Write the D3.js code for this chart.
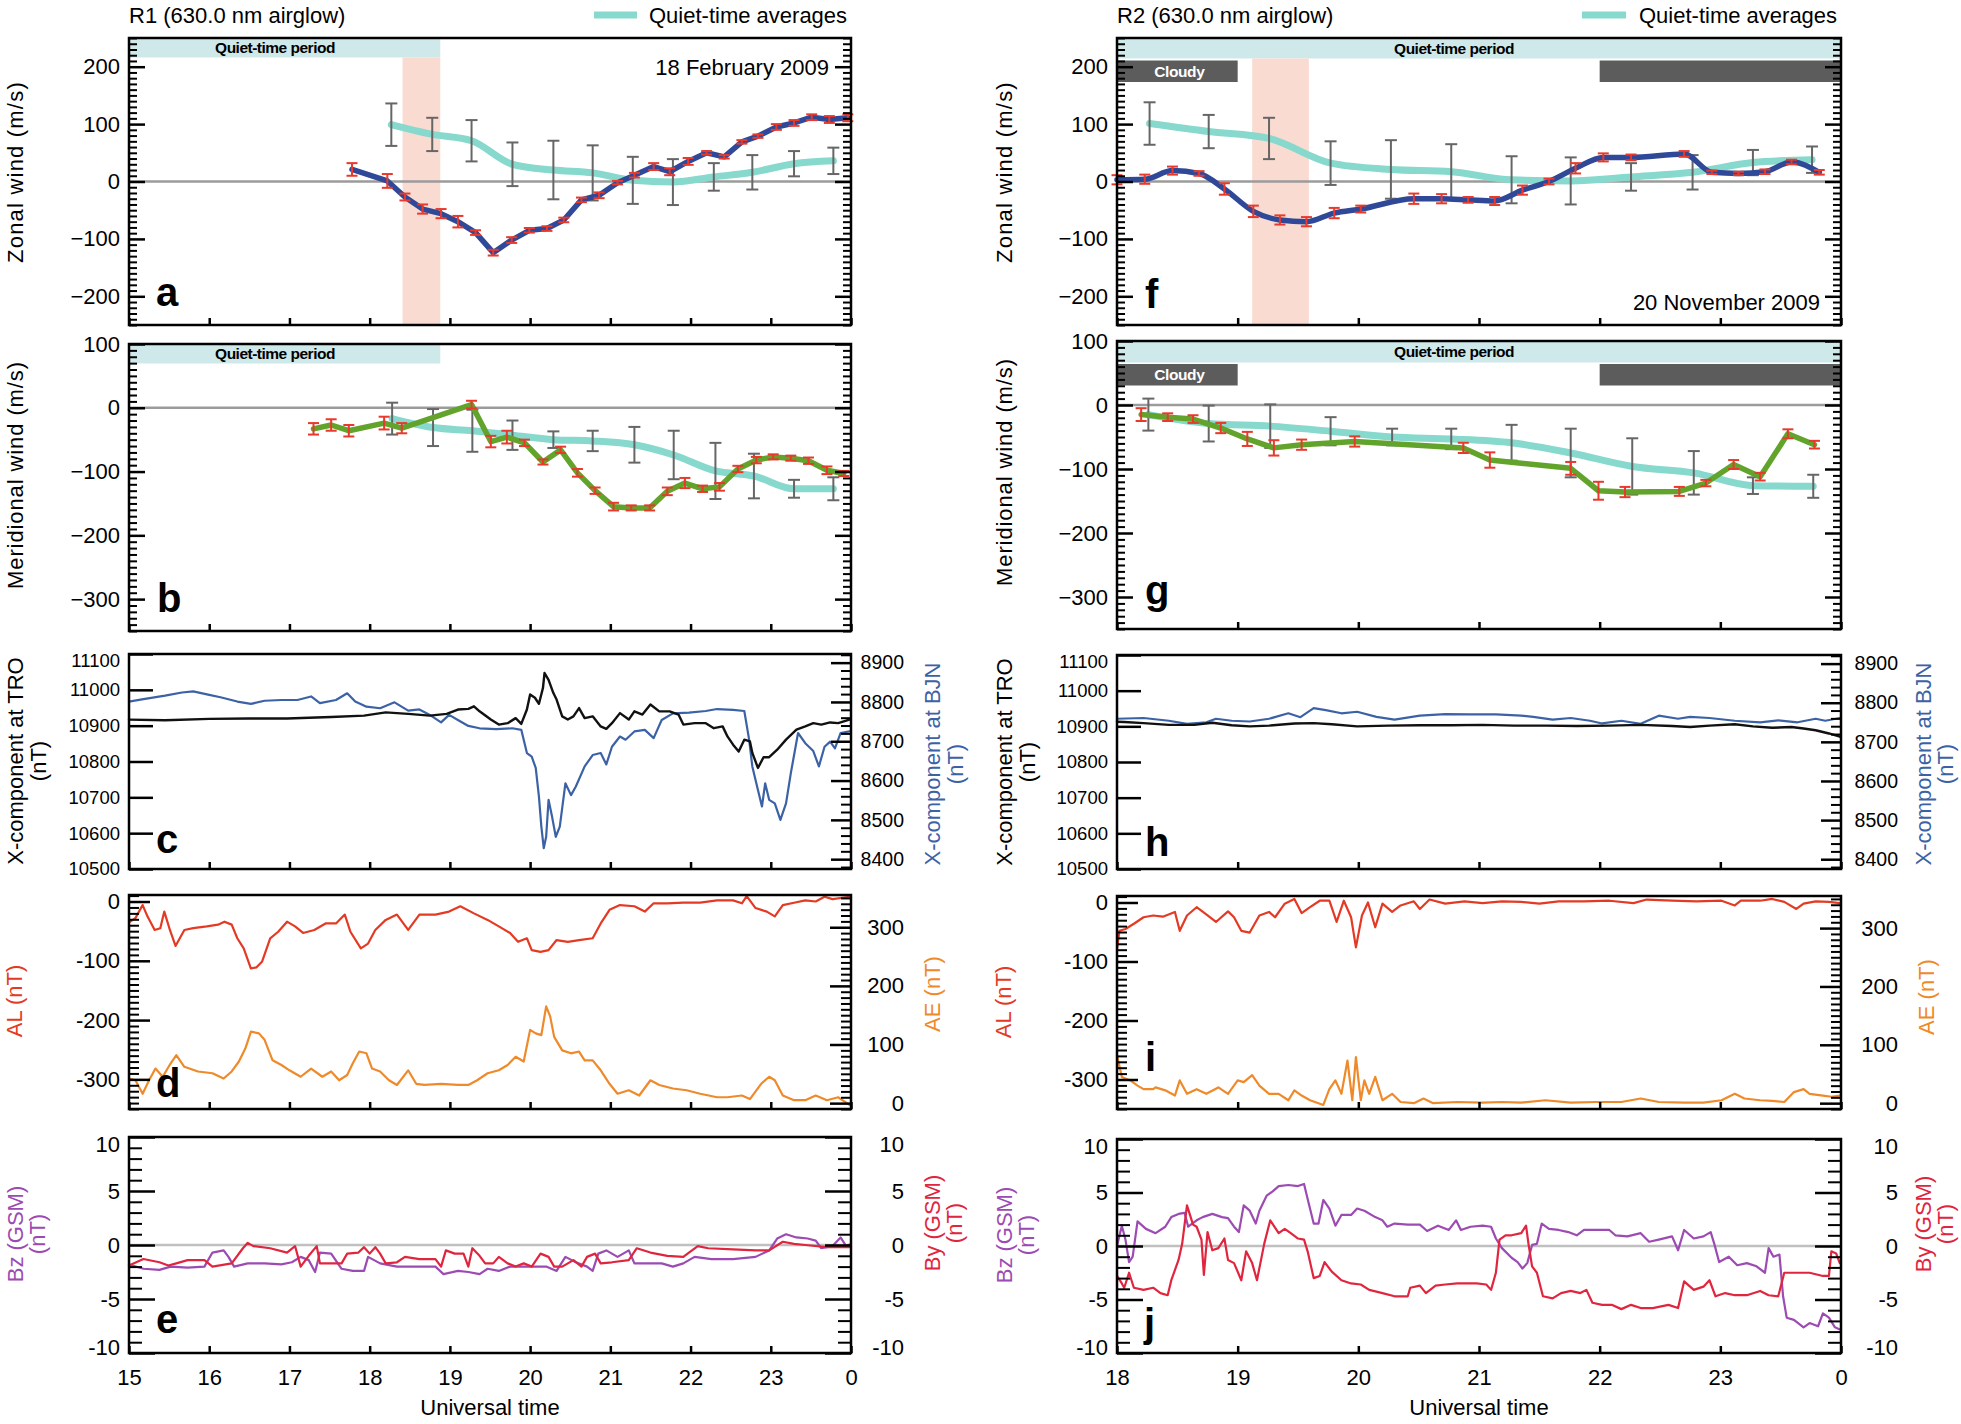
<!DOCTYPE html>
<html><head><meta charset="utf-8">
<script src="https://cdn.jsdelivr.net/npm/d3@7"></script>
<style>body{margin:0;background:#fff;}</style>
</head><body>
<script>
// ---------------- DATA ----------------
// wind panels: [UT hour, value (m/s), error (m/s)]
const zonalR1 = [[17.78,21,11],[18.22,1,12],[18.44,-27,6],[18.66,-48,8],[18.89,-56,8],[19.10,-70,10],[19.32,-89,4],[19.54,-124,5],[19.77,-102,5],[19.99,-85,4],[20.21,-82,4],[20.42,-67,4],[20.64,-32,4],[20.86,-24,5],[21.09,-2,3],[21.30,11,4],[21.54,26,6],[21.74,17,6],[21.97,35,6],[22.20,50,3],[22.42,43,3],[22.64,69,3],[22.84,79,3],[23.07,95,5],[23.29,102,5],[23.51,112,5],[23.73,108,6],[23.96,111,6]];
const quietZonalR1 = [[18.27,99,37],[18.78,82,29],[19.27,71,36],[19.78,30,38],[20.29,20,51],[20.78,15,48],[21.28,2,41],[21.78,-1,40],[22.29,8,24],[22.77,16,30],[23.29,31,22],[23.78,36,23]];
const meridR1 = [[17.30,-33,9],[17.52,-27,9],[17.74,-36,9],[18.18,-24,10],[18.40,-32,8],[19.27,5,6],[19.51,-53,9],[19.71,-46,10],[19.93,-55,5],[20.16,-85,4],[20.38,-66,5],[20.59,-102,6],[20.81,-130,5],[21.04,-155,6],[21.26,-157,4],[21.49,-157,4],[21.71,-131,6],[21.93,-118,8],[22.15,-127,5],[22.36,-124,6],[22.59,-96,5],[22.82,-82,5],[23.03,-77,4],[23.25,-79,4],[23.47,-83,5],[23.70,-98,6],[23.91,-103,4]];
const quietMeridR1 = [[18.28,-17,25],[18.79,-31,29],[19.28,-36,33],[19.78,-43,23],[20.29,-50,13],[20.78,-52,16],[21.30,-58,28],[21.79,-74,38],[22.31,-99,44],[22.79,-107,35],[23.29,-127,14],[23.78,-127,18]];
const zonalR2 = [[18.00,3,8],[18.23,4,8],[18.46,19,7],[18.68,14,4],[18.89,-13,10],[19.13,-52,10],[19.35,-67,8],[19.57,-70,8],[19.80,-55,9],[20.02,-48,6],[20.46,-30,9],[20.69,-30,8],[20.91,-32,5],[21.13,-34,7],[21.36,-15,8],[21.58,0,5],[21.80,23,9],[22.03,42,7],[22.26,42,5],[22.70,48,5],[22.93,16,3],[23.15,14,3],[23.37,17,4],[23.59,34,4],[23.82,16,4]];
const quietZonalR2 = [[18.27,101,37],[18.76,87,29],[19.26,75,36],[19.77,32,38],[20.27,21,51],[20.77,17,48],[21.27,3,41],[21.76,1,41],[22.26,8,24],[22.77,16,30],[23.27,33,22],[23.76,38,23]];
const meridR2 = [[18.20,-15,10],[18.42,-19,6],[18.63,-22,6],[18.86,-36,8],[19.08,-53,11],[19.30,-67,12],[19.53,-62,8],[19.97,-57,8],[20.87,-67,8],[21.09,-86,12],[21.76,-99,10],[21.99,-134,14],[22.21,-136,8],[22.66,-135,7],[22.88,-122,5],[23.11,-93,7],[23.33,-112,6],[23.56,-45,7],[23.78,-62,6]];
const quietMeridR2 = [[18.26,-15,25],[18.76,-29,28],[19.27,-33,34],[19.77,-41,22],[20.28,-50,13],[20.77,-53,16],[21.27,-59,28],[21.76,-75,38],[22.27,-96,44],[22.78,-106,34],[23.27,-126,13],[23.77,-127,18]];

// magnetometer X-component: [UT hour, nT]
const troR1 = [[15.00,10917],[15.45,10915],[16.00,10919],[16.49,10920],[16.97,10920],[17.52,10924],[17.93,10928],[18.20,10937],[18.48,10933],[18.75,10928],[18.96,10933],[19.10,10945],[19.23,10947],[19.30,10954],[19.37,10940],[19.51,10917],[19.61,10903],[19.72,10907],[19.82,10921],[19.89,10905],[19.96,10945],[20.00,10987],[20.06,10978],[20.11,10961],[20.16,11005],[20.18,11047],[20.23,11028],[20.29,10991],[20.33,10973],[20.40,10926],[20.47,10917],[20.54,10926],[20.61,10949],[20.68,10921],[20.78,10926],[20.88,10898],[20.95,10891],[21.02,10907],[21.12,10935],[21.23,10917],[21.30,10940],[21.40,10931],[21.50,10959],[21.61,10940],[21.74,10940],[21.85,10931],[21.91,10903],[22.05,10907],[22.19,10907],[22.29,10893],[22.40,10898],[22.46,10870],[22.53,10847],[22.60,10828],[22.67,10861],[22.74,10856],[22.77,10824],[22.84,10782],[22.91,10812],[22.98,10812],[23.08,10833],[23.19,10861],[23.32,10889],[23.43,10898],[23.53,10907],[23.63,10903],[23.74,10909],[23.84,10907],[23.98,10917]];
const bjnR1 = [[15.00,8801],[15.18,8807],[15.45,8816],[15.66,8824],[15.80,8827],[16.00,8818],[16.14,8812],[16.35,8801],[16.52,8795],[16.69,8803],[16.90,8805],[17.10,8805],[17.27,8814],[17.38,8797],[17.58,8805],[17.72,8822],[17.82,8801],[17.96,8788],[18.13,8784],[18.31,8799],[18.48,8778],[18.62,8781],[18.75,8767],[18.89,8748],[18.99,8767],[19.10,8754],[19.23,8739],[19.37,8733],[19.58,8731],[19.78,8733],[19.89,8729],[19.96,8670],[20.02,8661],[20.07,8632],[20.11,8559],[20.14,8483],[20.17,8428],[20.20,8457],[20.23,8551],[20.27,8512],[20.32,8457],[20.37,8483],[20.44,8593],[20.51,8563],[20.57,8585],[20.68,8636],[20.78,8665],[20.88,8670],[20.95,8641],[21.02,8686],[21.12,8712],[21.19,8704],[21.30,8725],[21.43,8729],[21.54,8708],[21.64,8754],[21.78,8771],[21.98,8773],[22.19,8777],[22.33,8782],[22.53,8780],[22.67,8777],[22.73,8704],[22.77,8636],[22.84,8576],[22.89,8534],[22.93,8593],[22.98,8551],[23.05,8542],[23.12,8500],[23.19,8542],[23.25,8619],[23.34,8721],[23.43,8695],[23.53,8675],[23.60,8636],[23.67,8686],[23.74,8699],[23.80,8682],[23.87,8721],[23.98,8725]];
const troR2 = [[18.00,10913],[18.06,10912],[18.22,10909],[18.43,10904],[18.64,10904],[18.79,10910],[18.95,10903],[19.10,10900],[19.26,10902],[19.47,10908],[19.63,10909],[19.78,10906],[19.99,10900],[20.25,10902],[20.51,10903],[20.77,10903],[21.03,10904],[21.29,10902],[21.55,10902],[21.81,10901],[22.08,10902],[22.34,10904],[22.60,10901],[22.75,10898],[22.91,10902],[23.12,10906],[23.27,10900],[23.43,10896],[23.59,10898],[23.69,10894],[23.79,10889],[23.90,10880],[23.99,10871]];
const bjnR2 = [[18.00,8759],[18.22,8761],[18.43,8754],[18.58,8746],[18.74,8750],[18.82,8759],[18.95,8754],[19.10,8752],[19.26,8759],[19.42,8773],[19.52,8763],[19.63,8786],[19.73,8781],[19.86,8773],[19.99,8777],[20.15,8764],[20.30,8757],[20.51,8767],[20.72,8771],[20.93,8770],[21.14,8770],[21.35,8767],[21.45,8764],[21.61,8757],[21.76,8761],[21.92,8754],[22.02,8747],[22.18,8754],[22.34,8746],[22.49,8767],[22.65,8759],[22.75,8764],[22.91,8761],[23.12,8754],[23.33,8750],[23.48,8755],[23.64,8750],[23.79,8759],[23.87,8754],[23.99,8761]];

// auroral indices: [UT hour, nT]
const alR1 = [[15.00,-35],[15.08,-28],[15.17,-6],[15.23,-25],[15.32,-48],[15.39,-45],[15.44,-17],[15.51,-48],[15.58,-75],[15.69,-48],[15.80,-45],[15.97,-42],[16.11,-39],[16.19,-34],[16.28,-39],[16.35,-62],[16.43,-79],[16.52,-113],[16.59,-111],[16.66,-101],[16.76,-62],[16.86,-51],[16.97,-34],[17.07,-42],[17.17,-53],[17.31,-48],[17.45,-37],[17.58,-37],[17.69,-22],[17.76,-51],[17.89,-79],[17.98,-71],[18.07,-48],[18.20,-31],[18.34,-22],[18.48,-48],[18.62,-22],[18.82,-22],[18.99,-17],[19.13,-8],[19.30,-20],[19.47,-31],[19.61,-42],[19.75,-53],[19.85,-68],[19.96,-62],[20.02,-82],[20.13,-85],[20.23,-82],[20.33,-65],[20.47,-68],[20.61,-65],[20.78,-62],[20.88,-37],[20.99,-14],[21.12,-6],[21.30,-8],[21.43,-17],[21.54,-3],[21.71,-3],[21.91,-2],[22.12,-2],[22.33,2],[22.53,2],[22.64,-3],[22.70,9],[22.81,-11],[22.95,-17],[23.05,-25],[23.15,-6],[23.29,-2],[23.43,2],[23.56,0],[23.67,8],[23.77,4],[23.98,8]];
const aeR1 = [[15.00,42],[15.08,39],[15.17,16],[15.25,39],[15.33,59],[15.42,45],[15.52,68],[15.59,82],[15.69,62],[15.86,54],[16.04,51],[16.18,42],[16.28,54],[16.37,71],[16.45,93],[16.52,122],[16.62,119],[16.69,108],[16.79,73],[16.90,65],[17.00,56],[17.14,45],[17.27,59],[17.41,45],[17.52,54],[17.62,39],[17.72,48],[17.79,68],[17.87,88],[17.96,85],[18.03,59],[18.13,54],[18.24,39],[18.34,31],[18.48,56],[18.58,33],[18.68,31],[18.89,33],[19.10,31],[19.23,31],[19.34,39],[19.47,51],[19.61,56],[19.72,65],[19.82,79],[19.92,71],[20.00,125],[20.07,119],[20.14,116],[20.20,165],[20.25,148],[20.30,113],[20.40,90],[20.51,85],[20.61,88],[20.68,73],[20.78,73],[20.88,56],[20.99,33],[21.09,16],[21.23,22],[21.36,13],[21.50,39],[21.61,31],[21.78,25],[21.95,22],[22.12,16],[22.33,10],[22.46,10],[22.64,13],[22.74,7],[22.88,33],[22.98,45],[23.05,39],[23.15,13],[23.29,5],[23.43,5],[23.56,13],[23.70,5],[23.84,10],[23.98,-3]];
const alR2 = [[18.00,-79],[18.02,-48],[18.07,-45],[18.14,-36],[18.22,-25],[18.30,-22],[18.38,-24],[18.48,-16],[18.52,-48],[18.58,-22],[18.66,-8],[18.74,-20],[18.82,-33],[18.92,-15],[18.97,-25],[19.03,-48],[19.10,-51],[19.18,-22],[19.26,-16],[19.31,-25],[19.39,-2],[19.47,6],[19.53,-18],[19.60,-8],[19.68,3],[19.76,3],[19.82,-33],[19.88,3],[19.94,-25],[19.98,-76],[20.03,-22],[20.08,0],[20.14,-42],[20.20,-2],[20.28,-16],[20.35,-5],[20.46,2],[20.51,-11],[20.59,5],[20.72,-2],[20.88,2],[21.03,-1],[21.19,2],[21.35,1],[21.50,-2],[21.66,2],[21.87,2],[22.08,3],[22.28,-1],[22.39,5],[22.60,3],[22.80,2],[23.01,3],[23.12,-5],[23.17,3],[23.33,3],[23.43,6],[23.53,1],[23.63,-11],[23.69,-2],[23.79,2],[23.90,1],[23.99,-1]];
const aeR2 = [[18.00,82],[18.04,45],[18.11,39],[18.17,30],[18.22,24],[18.30,24],[18.32,27],[18.40,22],[18.48,13],[18.52,39],[18.58,16],[18.66,24],[18.74,16],[18.84,27],[18.92,16],[19.00,39],[19.05,36],[19.12,48],[19.18,30],[19.26,16],[19.34,16],[19.42,5],[19.47,22],[19.53,13],[19.60,5],[19.71,-3],[19.76,24],[19.81,39],[19.86,16],[19.91,73],[19.95,5],[19.98,79],[20.02,5],[20.05,39],[20.09,16],[20.14,45],[20.20,5],[20.28,16],[20.35,2],[20.46,0],[20.54,8],[20.62,0],[20.82,2],[21.03,1],[21.19,2],[21.35,1],[21.55,5],[21.76,1],[21.97,2],[22.18,2],[22.34,8],[22.49,2],[22.70,1],[22.86,1],[23.01,5],[23.12,16],[23.20,8],[23.33,5],[23.43,4],[23.53,2],[23.61,19],[23.69,24],[23.74,16],[23.85,13],[23.92,11],[23.99,13]];

// IMF (GSM): [UT hour, nT]
const bzR1 = [[15.00,-1.8],[15.18,-2.2],[15.38,-2.3],[15.52,-2.0],[15.73,-2.1],[15.94,-2.0],[16.04,-0.7],[16.18,-0.5],[16.24,-1.1],[16.31,-2.0],[16.48,-1.7],[16.69,-1.7],[16.90,-1.8],[17.03,-1.6],[17.14,-1.1],[17.24,-1.4],[17.32,-2.5],[17.38,-0.7],[17.52,-0.8],[17.65,-2.2],[17.79,-2.4],[17.93,-2.4],[17.98,-1.1],[18.13,-1.7],[18.34,-2.0],[18.55,-2.0],[18.82,-2.0],[18.92,-2.7],[19.10,-2.4],[19.23,-2.5],[19.37,-2.7],[19.47,-2.2],[19.61,-2.4],[19.75,-2.0],[19.96,-2.0],[20.20,-2.0],[20.33,-2.4],[20.44,-1.1],[20.57,-1.6],[20.71,-2.0],[20.78,-2.4],[20.85,-0.8],[20.95,-0.5],[21.09,-1.1],[21.23,-0.5],[21.30,-1.7],[21.50,-1.7],[21.64,-1.7],[21.78,-2.0],[21.91,-1.7],[22.05,-1.1],[22.26,-1.3],[22.53,-1.3],[22.81,-1.1],[22.98,-0.5],[23.08,0.6],[23.19,1.0],[23.32,0.7],[23.46,0.6],[23.56,0.4],[23.63,-0.3],[23.77,-0.1],[23.87,0.7],[23.94,-0.1],[24.00,0.1]];
const byR1 = [[15.00,-1.9],[15.18,-1.3],[15.38,-1.6],[15.49,-1.9],[15.59,-1.7],[15.73,-1.4],[15.94,-1.4],[16.04,-2.0],[16.28,-1.7],[16.42,-0.3],[16.48,0.2],[16.55,-0.1],[16.76,-0.3],[16.97,-0.7],[17.07,-0.1],[17.14,-2.0],[17.24,-1.0],[17.34,-0.1],[17.38,-1.7],[17.52,-1.7],[17.65,-1.7],[17.72,-0.8],[17.86,-0.7],[17.93,-0.2],[18.00,-0.8],[18.07,-0.2],[18.13,-0.8],[18.20,-1.7],[18.34,-1.6],[18.44,-1.1],[18.62,-1.3],[18.82,-1.3],[18.89,-2.0],[18.95,-0.5],[19.06,-0.8],[19.17,-0.8],[19.23,-2.0],[19.28,-0.3],[19.37,-1.0],[19.44,-1.7],[19.54,-1.7],[19.61,-1.1],[19.72,-1.7],[19.82,-2.0],[19.92,-1.7],[20.02,-2.0],[20.13,-0.8],[20.23,-1.1],[20.30,-2.0],[20.40,-2.0],[20.54,-1.4],[20.64,-2.0],[20.71,-1.1],[20.81,-0.8],[20.88,-1.7],[21.02,-1.6],[21.23,-1.4],[21.33,-0.3],[21.50,-0.7],[21.71,-1.0],[21.91,-1.1],[21.98,-0.7],[22.09,-0.1],[22.22,-0.3],[22.53,-0.4],[22.81,-0.5],[22.98,-0.5],[23.15,0.3],[23.29,0.1],[23.43,0.0],[23.70,-0.2],[23.84,-0.2],[23.98,-0.2]];
const bzR2 = [[18.00,0],[18.04,1.9],[18.07,0.6],[18.10,-1.5],[18.13,-1.0],[18.17,2.3],[18.24,1.6],[18.32,1.2],[18.40,1.8],[18.45,2.7],[18.51,3.0],[18.56,3.1],[18.59,1.8],[18.66,2.4],[18.71,2.7],[18.79,3.0],[18.87,2.7],[18.92,2.6],[18.97,1.8],[19.01,1.3],[19.05,3.8],[19.10,3.3],[19.15,2.1],[19.18,3.3],[19.24,4.7],[19.29,5.1],[19.34,5.6],[19.42,5.7],[19.50,5.6],[19.55,5.8],[19.58,4.4],[19.63,2.1],[19.67,2.1],[19.71,4.3],[19.76,3.5],[19.81,1.9],[19.86,2.9],[19.94,2.9],[19.99,3.5],[20.05,3.3],[20.14,2.7],[20.20,2.4],[20.24,1.8],[20.30,2.1],[20.41,2.0],[20.51,2.0],[20.57,1.4],[20.66,1.9],[20.75,1.5],[20.81,2.4],[20.85,1.5],[20.93,1.8],[21.03,1.9],[21.10,1.8],[21.14,0.7],[21.19,-0.2],[21.27,-1.1],[21.32,-1.5],[21.36,-2.1],[21.40,-1.6],[21.44,0.1],[21.48,0.2],[21.52,2.1],[21.58,1.6],[21.66,1.5],[21.74,1.3],[21.81,1.0],[21.87,1.5],[21.94,1.5],[22.02,1.5],[22.08,1.5],[22.13,1.0],[22.23,0.9],[22.34,1.2],[22.41,0.4],[22.49,0.6],[22.60,0.9],[22.65,-0.4],[22.70,1.5],[22.78,0.7],[22.86,0.9],[22.92,1.3],[22.95,0.2],[22.99,-1.5],[23.07,-1.0],[23.14,-1.8],[23.22,-1.6],[23.30,-1.9],[23.37,-2.5],[23.40,-0.2],[23.44,-1.0],[23.49,-0.8],[23.52,-4.7],[23.55,-6.7],[23.61,-6.9],[23.69,-7.6],[23.74,-7.2],[23.81,-7.5],[23.85,-6.3],[23.90,-6.7],[23.95,-7.6],[23.99,-7.8]];
const byR2 = [[18.00,-2.8],[18.04,-3.5],[18.06,-3.9],[18.10,-2.5],[18.14,-3.9],[18.22,-4.1],[18.30,-3.9],[18.36,-4.4],[18.42,-4.6],[18.45,-3.2],[18.51,-1.3],[18.54,0.2],[18.58,3.8],[18.63,2.0],[18.66,1.8],[18.70,0.6],[18.72,-2.7],[18.75,1.3],[18.79,-0.4],[18.84,-0.2],[18.89,0.7],[18.92,-1.3],[18.97,-1.6],[19.03,-3.2],[19.07,-0.5],[19.12,-1.6],[19.16,-3.2],[19.22,0.2],[19.27,2.4],[19.34,1.2],[19.39,1.6],[19.44,1.2],[19.50,0.7],[19.55,0.6],[19.58,-0.5],[19.63,-3.0],[19.68,-2.8],[19.72,-1.5],[19.78,-2.4],[19.86,-3.2],[19.94,-3.5],[20.02,-3.6],[20.09,-4.1],[20.20,-4.4],[20.30,-4.7],[20.41,-4.7],[20.43,-3.9],[20.51,-3.7],[20.56,-4.4],[20.64,-3.7],[20.72,-3.6],[20.82,-3.5],[20.90,-3.5],[20.98,-3.5],[21.06,-3.6],[21.10,-4.1],[21.14,-2.5],[21.17,0.6],[21.22,1.0],[21.27,1.0],[21.35,1.2],[21.39,1.9],[21.41,0.2],[21.44,-1.9],[21.48,-2.5],[21.53,-4.7],[21.61,-4.9],[21.68,-4.4],[21.76,-4.2],[21.84,-4.4],[21.89,-4.1],[21.94,-5.3],[22.02,-5.5],[22.10,-5.5],[22.18,-5.9],[22.26,-5.5],[22.34,-5.8],[22.44,-5.8],[22.57,-5.5],[22.65,-5.8],[22.70,-3.3],[22.78,-4.1],[22.86,-3.8],[22.91,-3.2],[22.96,-4.7],[23.04,-4.4],[23.12,-4.6],[23.22,-4.6],[23.33,-4.2],[23.40,-4.6],[23.48,-4.7],[23.53,-2.5],[23.64,-2.5],[23.74,-2.5],[23.85,-2.8],[23.90,-2.8],[23.92,-0.5],[23.96,-0.7],[23.99,-1.6]];

// periods [start UT, end UT]
const quietR1 = [15, 18.88], stormR1 = [18.41, 18.88];
const quietR2 = [18, 24], stormR2 = [19.12, 19.59], cloudyR2 = [[18, 19], [22, 24]];
const hoursL = [15,16,17,18,19,20,21,22,23,24];
const hoursR = [18,19,20,21,22,23,24];

// ---------------- DRAWING ----------------
const FONT = '"Liberation Sans", Arial, Helvetica, sans-serif';
const C = {cyan:'#86d9cc', blue:'#2f4897', green:'#62a32c', red:'#e8392c', gray:'#666',
  quiet:'#cfe9eb', storm:'#fadbd2', cloud:'#5c5c5c', zero:'#9b9b9b', zero2:'#c0c0c0',
  bjn:'#3c62a6', al:'#e43a24', ae:'#ef8a2b', bz:'#9c4bb2', by:'#e0263f'};

const svg = d3.select('body').append('svg').attr('width',1961).attr('height',1424).style('display','block');

const xL = d3.scaleLinear().domain([15,24]).range([129,851]);
const xR = d3.scaleLinear().domain([18,24]).range([1117,1841]);
const yS = (dom, top, bot) => d3.scaleLinear().domain(dom).range([bot, top]);

const P = {
  a:{x:xL, top:38, bot:325, hours:hoursL, col:'L'}, b:{x:xL, top:344, bot:631, hours:hoursL, col:'L'},
  c:{x:xL, top:654, bot:869, hours:hoursL, col:'L'}, d:{x:xL, top:895, bot:1109, hours:hoursL, col:'L'},
  e:{x:xL, top:1137, bot:1353, hours:hoursL, col:'L'},
  f:{x:xR, top:38, bot:325, hours:hoursR, col:'R'}, g:{x:xR, top:341, bot:629, hours:hoursR, col:'R'},
  h:{x:xR, top:655, bot:869, hours:hoursR, col:'R'}, i:{x:xR, top:896, bot:1109, hours:hoursR, col:'R'},
  j:{x:xR, top:1139, bot:1353, hours:hoursR, col:'R'}
};

const fmtMinus = d3.format('d');
const fmtHyph = d => String(d);

function txt(x, y, s, o={}) {
  const t = svg.append('text').attr('x',x).attr('y',y).attr('dy', o.dy || '0.35em')
    .attr('font-family',FONT).attr('font-size',o.size||22).attr('fill',o.fill||'#000')
    .attr('font-weight',o.weight||'normal').attr('text-anchor',o.anchor||'start').text(s);
  if (o.rot) t.attr('transform',`rotate(-90,${x},${y})`).attr('text-anchor','middle');
  if (o.ls) t.attr('letter-spacing',o.ls);
  return t;
}

function yAxis(p, scale, side, majors, minors, majLen, minLen, fmt, opt={}) {
  const x0 = side==='left' ? p.x.range()[0] : p.x.range()[1];
  const mk = () => side==='left' ? d3.axisLeft(scale) : d3.axisRight(scale);
  if (minors) {
    const mm = minors.filter(v => majors.indexOf(v) < 0);
    const gm = svg.append('g').attr('transform',`translate(${x0},0)`)
      .call(mk().tickValues(mm).tickSizeInner(-minLen).tickSizeOuter(0).tickFormat(''));
    gm.select('.domain').remove();
    gm.selectAll('line').attr('stroke','#000').attr('stroke-width',2);
  }
  const g = svg.append('g').attr('transform',`translate(${x0},0)`)
    .call(mk().tickValues(majors).tickSizeInner(-majLen).tickSizeOuter(0).tickPadding(9).tickFormat(fmt || (()=>'')));
  g.select('.domain').remove();
  g.selectAll('line').attr('stroke','#000').attr('stroke-width',2.5);
  g.selectAll('text').attr('font-family',FONT).attr('font-size',opt.size||22).attr('fill','#000');
  if (side==='right' && fmt) g.selectAll('text').attr('text-anchor','end').attr('x', p.col==='L' ? 53 : 57);
  g.selectAll('.tick').each(function(d){
    const yy = scale(d);
    const t = d3.select(this).select('text');
    if (opt.clampTop && yy < p.top + 4) t.attr('transform','translate(0,7)');
    if (opt.clampBot && yy > p.bot - 4) t.attr('transform','translate(0,-6)');
  });
}

function xAxis(p, labels) {
  const g = svg.append('g').attr('transform',`translate(0,${p.bot})`)
    .call(d3.axisBottom(p.x).tickValues(p.hours).tickSizeInner(-7).tickSizeOuter(0).tickPadding(16)
      .tickFormat(labels ? (d => String(d % 24)) : (() => '')));
  g.select('.domain').remove();
  g.selectAll('line').attr('stroke','#000').attr('stroke-width',2.5);
  g.selectAll('text').attr('font-family',FONT).attr('font-size',22).attr('fill','#000');
}

function frame(p) {
  svg.append('rect').attr('x',p.x.range()[0]).attr('y',p.top)
    .attr('width',p.x.range()[1]-p.x.range()[0]).attr('height',p.bot-p.top)
    .attr('fill','none').attr('stroke','#000').attr('stroke-width',2.5);
}

function band(p, span, y0, y1, color) {
  svg.append('rect').attr('x',p.x(span[0])).attr('y',y0)
    .attr('width',p.x(span[1])-p.x(span[0])).attr('height',y1-y0).attr('fill',color);
}

function zero(p, y, color, w) {
  svg.append('line').attr('x1',p.x.range()[0]).attr('x2',p.x.range()[1])
    .attr('y1',y(0)).attr('y2',y(0)).attr('stroke',color).attr('stroke-width',w||2.5);
}

function line(p, y, data, color, w, curve) {
  svg.append('path').datum(data)
    .attr('d', d3.line().x(d=>p.x(d[0])).y(d=>y(d[1])).curve(curve||d3.curveLinear))
    .attr('fill','none').attr('stroke',color).attr('stroke-width',w)
    .attr('stroke-linejoin','round').attr('stroke-linecap','round');
}

function errBars(p, y, data, color, cap, w) {
  const g = svg.append('g');
  data.forEach(d => {
    const xx = p.x(d[0]), ya = y(d[1]-d[2]), yb = y(d[1]+d[2]);
    g.append('line').attr('x1',xx).attr('x2',xx).attr('y1',ya).attr('y2',yb);
    g.append('line').attr('x1',xx-cap/2).attr('x2',xx+cap/2).attr('y1',ya).attr('y2',ya);
    g.append('line').attr('x1',xx-cap/2).attr('x2',xx+cap/2).attr('y1',yb).attr('y2',yb);
  });
  g.selectAll('line').attr('stroke',color).attr('stroke-width',w);
}

function letter(x, y, s) {
  svg.append('text').attr('x',x).attr('y',y).attr('font-family',FONT).attr('font-size',40)
    .attr('font-weight','bold').attr('fill','#000').text(s);
}

// ---- wind panels ----
function windPanel(p, y, majors, minors, fmt, main, mainColor, quiet, opts) {
  if (opts.quiet) {
    band(p, opts.quiet, p.top, opts.qBot, C.quiet);
    txt(opts.qTextX, (p.top+opts.qBot)/2, 'Quiet-time period', {size:15.5, weight:'bold', anchor:'middle', ls:'-0.5'});
  }
  if (opts.storm) band(p, opts.storm, opts.qBot, p.bot, C.storm);
  if (opts.cloudy) {
    opts.cloudy.forEach(s => band(p, s, opts.cTop, opts.cBot, C.cloud));
    txt(p.x(18.5)+2, (opts.cTop+opts.cBot)/2, 'Cloudy', {size:15.5, weight:'bold', anchor:'middle', fill:'#fff', ls:'-0.4'});
  }
  zero(p, y, C.zero, 2.5);
  line(p, y, quiet, C.cyan, 7, d3.curveMonotoneX);
  errBars(p, y, quiet, C.gray, 12, 2);
  line(p, y, main, mainColor, 5.5, opts.curve);
  errBars(p, y, main, C.red, 11, 2);
  frame(p);
  yAxis(p, y, 'left', majors, minors, 16, 8, fmt);
  yAxis(p, y, 'right', majors, minors, 16, 8, null);
  xAxis(p, false);
}

const yA = yS([-250,250], P.a.top, P.a.bot);
const yB = yS([-350,100], P.b.top, P.b.bot);
const yF = yS([-250,250], P.f.top, P.f.bot);
const yG = yS([-350,100], P.g.top, P.g.bot);
const zMaj = [-200,-100,0,100,200], zMin = d3.range(-250,251,10);
const mMaj = [-300,-200,-100,0,100], mMin = d3.range(-350,101,10);

windPanel(P.a, yA, zMaj, zMin, fmtMinus, zonalR1, C.blue, quietZonalR1,
  {quiet:quietR1, qBot:57.5, qTextX:275, storm:stormR1});
windPanel(P.b, yB, mMaj, mMin, fmtMinus, meridR1, C.green, quietMeridR1,
  {quiet:quietR1, qBot:363.5, qTextX:275});
windPanel(P.f, yF, zMaj, zMin, fmtMinus, zonalR2, C.blue, quietZonalR2,
  {quiet:quietR2, qBot:58.5, qTextX:1454, storm:stormR2, cloudy:cloudyR2, cTop:60.5, cBot:82, curve:d3.curveMonotoneX});
windPanel(P.g, yG, mMaj, mMin, fmtMinus, meridR2, C.green, quietMeridR2,
  {quiet:quietR2, qBot:362.5, qTextX:1454, cloudy:cloudyR2, cTop:364, cBot:385.5});

// ---- magnetometer panels ----
function magPanel(p, tro, bjn) {
  const yl = yS([10500,11100], p.top, p.bot);
  const yr = yS([8375,8922], p.top, p.bot);
  line(p, yr, bjn, C.bjn, 2.2);
  line(p, yl, tro, '#111', 2.4);
  frame(p);
  yAxis(p, yl, 'left', d3.range(10500,11101,100), null, 24, 0, fmtHyph, {clampTop:true, size:18.5});
  yAxis(p, yr, 'right', d3.range(8400,8901,100), d3.range(8380,8921,20), 20, 10, fmtHyph, {size:19.5});
  xAxis(p, false);
}
magPanel(P.c, troR1, bjnR1);
magPanel(P.h, troR2, bjnR2);

// ---- AL / AE panels ----
function aePanel(p, al, ae) {
  const yl = yS([-350,11], p.top, p.bot);
  const yr = yS([-10,355], p.top, p.bot);
  line(p, yr, ae, C.ae, 2.2);
  line(p, yl, al, C.al, 2.2);
  frame(p);
  yAxis(p, yl, 'left', [-300,-200,-100,0], d3.range(-350,11,10), 21, 10, fmtHyph);
  yAxis(p, yr, 'right', [0,100,200,300], d3.range(-10,351,10), 21, 10, fmtHyph);
  xAxis(p, false);
}
aePanel(P.d, alR1, aeR1);
aePanel(P.i, alR2, aeR2);

// ---- IMF panels ----
function imfPanel(p, bz, by) {
  const y = yS([-10,10], p.top, p.bot);
  zero(p, y, C.zero2, 2.5);
  line(p, y, bz, C.bz, 2.2);
  line(p, y, by, C.by, 2.2);
  frame(p);
  const maj = [-10,-5,0,5,10], mn = d3.range(-10,11,1);
  yAxis(p, y, 'left', maj, mn, 26, 13, fmtHyph, {clampTop:true, clampBot:true});
  yAxis(p, y, 'right', maj, mn, 26, 13, fmtHyph, {clampTop:true, clampBot:true});
  xAxis(p, true);
}
imfPanel(P.e, bzR1, byR1);
imfPanel(P.j, bzR2, byR2);

// ---- headers ----
txt(129, 15, 'R1 (630.0 nm airglow)');
txt(1117, 15, 'R2 (630.0 nm airglow)');
[[594,637,649],[1582,1626,1639]].forEach(([a,b,t]) => {
  svg.append('line').attr('x1',a).attr('x2',b).attr('y1',15).attr('y2',15).attr('stroke',C.cyan).attr('stroke-width',7);
  txt(t, 15, 'Quiet-time averages');
});
txt(829, 67, '18 February 2009', {anchor:'end'});
txt(1820, 302, '20 November 2009', {anchor:'end'});

// ---- axis titles ----
const tt = (x, y, s, fill, ls) => txt(x, y, s, {rot:true, fill:fill||'#000', ls:ls});
tt(15, 172, 'Zonal wind  (m/s)', null, '1.2');
tt(1004, 172, 'Zonal wind  (m/s)', null, '1.2');
tt(15, 475, 'Meridional wind  (m/s)', null, '0.9');
tt(1004, 472, 'Meridional wind  (m/s)', null, '0.9');
tt(15, 761, 'X-component at TRO'); tt(38, 761, '(nT)');
tt(1004, 762, 'X-component at TRO'); tt(1027, 762, '(nT)');
tt(932, 764, 'X-component at BJN', C.bjn); tt(955, 764, '(nT)', C.bjn);
tt(1923, 764, 'X-component at BJN', C.bjn); tt(1945, 764, '(nT)', C.bjn);
tt(14, 1001, 'AL (nT)', C.al); tt(1003, 1002, 'AL (nT)', C.al);
tt(932, 994, 'AE (nT)', C.ae); tt(1926, 997, 'AE (nT)', C.ae);
tt(15, 1234, 'Bz (GSM)', C.bz); tt(37, 1234, '(nT)', C.bz);
tt(1004, 1235, 'Bz (GSM)', C.bz); tt(1026, 1235, '(nT)', C.bz);
tt(932, 1223, 'By (GSM)', C.by); tt(954, 1223, '(nT)', C.by);
tt(1923, 1224, 'By (GSM)', C.by); tt(1945, 1224, '(nT)', C.by);
txt(490, 1407, 'Universal time', {anchor:'middle'});
txt(1479, 1407, 'Universal time', {anchor:'middle'});

// ---- panel letters ----
[['a',156,306],['b',157,612],['c',156,853],['d',156,1097],['e',156,1333],
 ['f',1145,308],['g',1145,604],['h',1145,856],['i',1145,1071],['j',1144,1337]]
 .forEach(([s,x,y]) => letter(x,y,s));
</script>
</body></html>
